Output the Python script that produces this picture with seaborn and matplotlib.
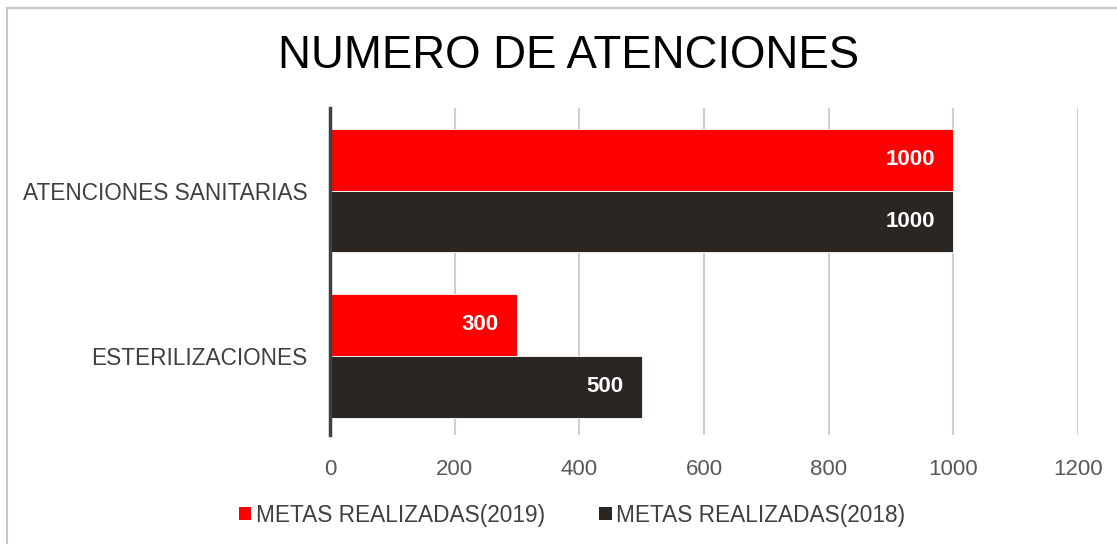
import pandas as pd
import seaborn as sns
import matplotlib.pyplot as plt
from matplotlib.lines import Line2D
from matplotlib.patches import Patch

# Datos del grafico
categorias = ["ATENCIONES SANITARIAS", "ESTERILIZACIONES"]
series = ["METAS REALIZADAS(2019)", "METAS REALIZADAS(2018)"]
metas_2019 = [1000, 300]
metas_2018 = [1000, 500]
colores = ["#FF0000", "#2B2622"]

df = pd.DataFrame({
    "categoria": categorias * 2,
    "serie": [series[0]] * 2 + [series[1]] * 2,
    "valor": metas_2019 + metas_2018,
})

sns.set_theme(style="white")
plt.rcParams['font.family'] = ['Liberation Sans', 'DejaVu Sans']

fig = plt.figure(figsize=(11.17, 5.44), dpi=100)
ax = fig.add_axes([0.2954, 0.2004, 0.6697, 0.6011])

sns.barplot(data=df, x="valor", y="categoria", hue="serie", orient="h",
            palette=colores, saturation=1, width=0.75, edgecolor="white",
            linewidth=0.6, legend=False, ax=ax)

# Etiquetas de datos dentro de las barras
for cont in ax.containers:
    ax.bar_label(cont, labels=[f"{int(v)}" for v in cont.datavalues],
                 padding=-13, color="white", fontsize=16, fontweight="bold",
                 label_type="edge")
for t in ax.texts:
    t.set_horizontalalignment("right")

ax.set_xlim(0, 1200)
ax.set_ylim(1.48, -0.5)
ax.set_xticks(range(0, 1201, 200))
ax.xaxis.grid(True, color="#CFCFCF", linewidth=1.5)
ax.set_axisbelow(True)
for s in ["top", "right", "bottom"]:
    ax.spines[s].set_visible(False)
ax.spines["left"].set_color("#404040")
ax.spines["left"].set_linewidth(2.5)
ax.tick_params(axis="x", labelsize=16, labelcolor="#595959", pad=17, length=0)
ax.tick_params(axis="y", labelsize=16.3, labelcolor="#404040", pad=16, length=0)
ax.set_xlabel("")
ax.set_ylabel("")

fig.text(0.509, 0.897, "NUMERO DE ATENCIONES", ha="center", va="center",
         fontsize=32.8, color="black")

# Leyenda inferior
handles = [Patch(facecolor=c, edgecolor="none") for c in colores]
fig.legend(handles, series, loc="center", bbox_to_anchor=(0.512, 0.053),
           ncol=2, frameon=False, fontsize=16.3, handlelength=0.55,
           handleheight=0.55, handletextpad=0.2, columnspacing=2.4,
           labelcolor="#404040")

# Borde del grafico
fig.add_artist(Line2D([6.5 / 1117, 6.5 / 1117], [0, 1 - 7.5 / 544],
                      transform=fig.transFigure, color="#C8C8C8", linewidth=1.5))
fig.add_artist(Line2D([6.5 / 1117, 1], [1 - 7.5 / 544, 1 - 7.5 / 544],
                      transform=fig.transFigure, color="#C8C8C8", linewidth=1.5))

fig.savefig("out.png", dpi=100)
